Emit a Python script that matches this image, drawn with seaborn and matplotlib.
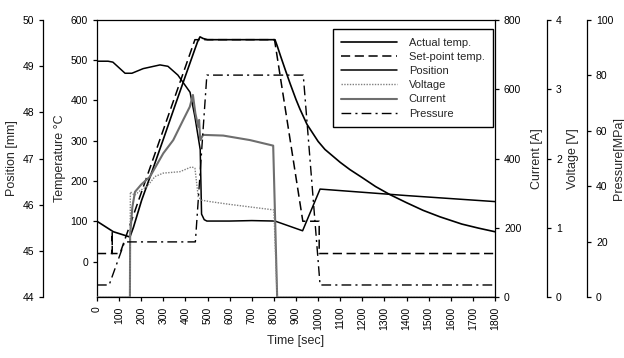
import matplotlib
matplotlib.use("Agg")
import matplotlib.pyplot as plt
import seaborn as sns

# ---- data ----
time_actual = [0, 74, 149, 165, 202, 250, 300, 350, 400, 440, 455, 466, 480, 500, 600, 700, 805,
               815, 830, 850, 873, 900, 918, 950, 1000, 1031, 1100, 1144, 1200, 1260, 1325,
               1400, 1475, 1551, 1650, 1725, 1800]
temp_actual = [100, 74, 61, 85, 152, 225, 303, 382, 460, 522, 545, 557, 553, 550, 550, 550, 550,
               535, 510, 478, 442, 402, 378, 340, 298, 278, 246, 228, 208, 186, 166,
               146, 127, 111, 93, 83, 74]

time_set = [0, 69, 69, 69, 104, 443, 803, 931, 1005, 1005, 1800]
temp_set = [20, 20, 74, 20, 20, 550, 550, 100, 100, 20, 20]

time_pos = [0, 50, 72, 127, 158, 209, 285, 321, 366, 421, 443, 467, 473, 485, 497, 600, 700,
            805, 930, 1009, 1400, 1800]
position = [49.10, 49.10, 49.08, 48.84, 48.84, 48.94, 49.02, 48.99, 48.80, 48.43, 47.90, 47.19,
            45.80, 45.68, 45.65, 45.65, 45.66, 45.65, 45.44, 46.34, 46.20, 46.07]

time_volt = [0, 149, 151, 170, 200, 225, 262, 300, 375, 428, 443, 458, 474, 511, 600, 700, 800,
             815, 1800]
voltage = [0, 0, 1.52, 1.47, 1.55, 1.59, 1.74, 1.79, 1.81, 1.88, 1.86, 1.45, 1.40, 1.38, 1.34,
           1.30, 1.26, 0, 0]

time_cur = [0, 149, 150, 160, 172, 200, 240, 300, 345, 390, 420, 434, 445, 458, 462, 467, 480,
            571, 692, 797, 815, 1800]
current = [0, 0, 180, 260, 304, 325, 348, 415, 453, 511, 549, 583, 530, 491, 511, 453, 468,
           466, 453, 437, 0, 0]

time_pres = [0, 55, 125, 445, 497, 933, 1009, 1800]
pressure = [4.5, 4.5, 20, 20, 80, 80, 4.5, 4.5]

sns.set_theme(style="ticks", rc={
    "axes.edgecolor": "black",
    "axes.linewidth": 0.9,
    "xtick.color": "black",
    "ytick.color": "black",
    "xtick.major.size": 3,
    "ytick.major.size": 3,
    "xtick.major.width": 0.9,
    "ytick.major.width": 0.9,
    "xtick.labelsize": 7.5,
    "ytick.labelsize": 7.5,
    "axes.labelsize": 9,
    "legend.fontsize": 8,
})
plt.rcParams["font.family"] = ["Liberation Sans", "DejaVu Sans"]

fig = plt.figure(figsize=(6.24, 3.58), dpi=100)
ax = fig.add_axes([0.1554, 0.169, 0.6378, 0.7765])
ax_pos = ax.twinx()
ax_cur = ax.twinx()
ax_volt = ax.twinx()
ax_pres = ax.twinx()

GRAY = "#6e6e6e"

sns.lineplot(x=time_actual, y=temp_actual, ax=ax, color="black", lw=1.2,
             estimator=None, sort=False, legend=False, label="Actual temp.")
sns.lineplot(x=time_set, y=temp_set, ax=ax, color="black", lw=1.1, linestyle=(0, (6, 3)),
             estimator=None, sort=False, legend=False, label="Set-point temp.")
sns.lineplot(x=time_pos, y=position, ax=ax_pos, color="black", lw=1.1,
             estimator=None, sort=False, legend=False, label="Position")
sns.lineplot(x=time_volt, y=voltage, ax=ax_volt, color="#808080", lw=1.0, linestyle=(0, (1, 1)),
             estimator=None, sort=False, legend=False, label="Voltage")
sns.lineplot(x=time_cur, y=current, ax=ax_cur, color=GRAY, lw=1.5,
             estimator=None, sort=False, legend=False, label="Current")
sns.lineplot(x=time_pres, y=pressure, ax=ax_pres, color="black", lw=1.0,
             linestyle=(0, (7, 3, 1.5, 3)),
             estimator=None, sort=False, legend=False, label="Pressure")

# x axis
ax.set_xlim(0, 1800)
ax.set_xticks(range(0, 1801, 100))
ax.tick_params(axis="x", rotation=90)
ax.set_xlabel("Time [sec]")

# temperature (main left)
ax.set_ylim(-89, 600)
ax.set_yticks(range(0, 601, 100))
ax.set_ylabel("Temperature °C", labelpad=3)
ax.spines["right"].set_visible(False)

# position (outer left)
ax_pos.set_ylim(44, 50)
ax_pos.set_yticks(range(44, 51))
ax_pos.spines["left"].set_visible(True)
ax_pos.spines["left"].set_position(("axes", -0.1357))
for s in ["right", "top", "bottom"]:
    ax_pos.spines[s].set_visible(False)
ax_pos.yaxis.set_ticks_position("left")
ax_pos.yaxis.set_label_position("left")
ax_pos.set_ylabel("Position [mm]", labelpad=3)

# current (right)
ax_cur.set_ylim(0, 800)
ax_cur.set_yticks(range(0, 801, 200))
ax_cur.set_ylabel("Current [A]", labelpad=7)

# voltage
ax_volt.set_ylim(0, 4)
ax_volt.set_yticks(range(0, 5))
ax_volt.spines["right"].set_position(("axes", 1.1307))
ax_volt.set_ylabel("Voltage [V]", labelpad=4)

# pressure
ax_pres.set_ylim(0, 100)
ax_pres.set_yticks(range(0, 101, 20))
ax_pres.spines["right"].set_position(("axes", 1.2312))
ax_pres.set_ylabel("Pressure[MPa]", labelpad=0)

for a in [ax_cur, ax_volt, ax_pres]:
    for s in ["left", "top", "bottom"]:
        a.spines[s].set_visible(False)

handles, labels = [], []
for a in [ax, ax_pos, ax_volt, ax_cur, ax_pres]:
    h, l = a.get_legend_handles_labels()
    handles += h
    labels += l

leg = ax_pres.legend(handles, labels, loc="upper right", bbox_to_anchor=(0.995, 0.965),
                     bbox_transform=ax.transAxes, frameon=True, fancybox=False,
                     edgecolor="black", framealpha=1, handlelength=5.0, handletextpad=1.1,
                     labelspacing=0.38, borderpad=0.75, borderaxespad=0)
leg.get_frame().set_linewidth(1.0)

fig.savefig("out.png", dpi=100)
